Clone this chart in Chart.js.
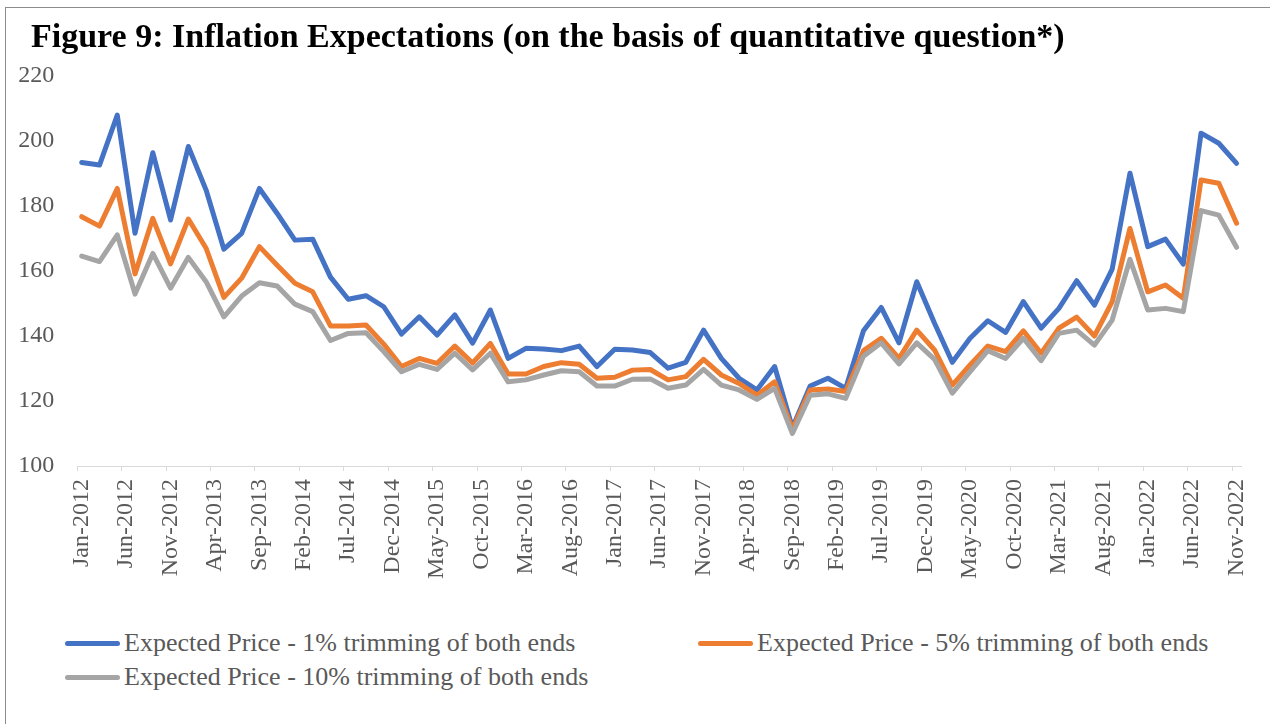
<!DOCTYPE html>
<html>
<head>
<meta charset="utf-8">
<title>Inflation Expectations</title>
<script src="https://cdn.jsdelivr.net/npm/chart.js@4.4.1/dist/chart.umd.min.js"></script>
<style>
  html, body { margin: 0; padding: 0; background: #fff; }
  body { width: 1270px; height: 724px; overflow: hidden; position: relative; font-family: "Liberation Serif", "Times New Roman", serif; }
  #frame { position: absolute; left: 5px; top: 7px; width: 1400px; height: 900px; border: 1px solid #8c8c8c; }
  #chart { position: absolute; left: 0; top: 0; }
  #title { position: absolute; left: 31px; top: 15px; margin: 0; font-size: 34px; line-height: 41px; font-weight: bold; color: #000; white-space: nowrap; }
  #legend { position: absolute; left: 65px; top: 626px; display: grid; grid-template-columns: 633px auto; }
  .item { display: flex; align-items: center; height: 34px; font-size: 26px; color: #595959; white-space: nowrap; }
  .swatch { width: 55px; height: 5px; border-radius: 2.5px; margin-right: 4px; }
</style>
</head>
<body>
<div id="frame"></div>
<canvas id="chart" width="1270" height="596"></canvas>
<h1 id="title">Figure 9: Inflation Expectations (on the basis of quantitative question*)</h1>
<div id="legend"></div>
<script>
const MONTHS = ['Jan','Feb','Mar','Apr','May','Jun','Jul','Aug','Sep','Oct','Nov','Dec'];

// bi-monthly survey rounds
const surveyRounds = [
  'Jan-2012','Mar-2012','May-2012','Jul-2012','Sep-2012','Nov-2012',
  'Jan-2013','Mar-2013','May-2013','Jul-2013','Sep-2013','Nov-2013',
  'Jan-2014','Mar-2014','May-2014','Jul-2014','Sep-2014','Nov-2014',
  'Jan-2015','Mar-2015','May-2015','Jul-2015','Sep-2015','Nov-2015',
  'Jan-2016','Mar-2016','May-2016','Jul-2016','Sep-2016','Nov-2016',
  'Jan-2017','Mar-2017','May-2017','Jul-2017','Sep-2017','Nov-2017',
  'Jan-2018','Mar-2018','May-2018','Jul-2018','Sep-2018','Nov-2018',
  'Jan-2019','Mar-2019','May-2019','Jul-2019','Sep-2019','Nov-2019',
  'Jan-2020','Mar-2020','May-2020','Jul-2020','Sep-2020','Nov-2020',
  'Jan-2021','Mar-2021','May-2021','Jul-2021','Sep-2021','Nov-2021',
  'Jan-2022','Mar-2022','May-2022','Jul-2022','Sep-2022','Nov-2022'
];

const trim1 = [
  193.4, 192.6, 208.0, 171.6, 196.4, 175.7, 198.3, 184.9, 166.7, 171.6,
  185.4, 177.7, 169.5, 169.8, 158.1, 151.3, 152.4, 149.0, 140.6, 145.9,
  140.3, 146.5, 137.8, 148.0, 133.1, 136.2, 136.0, 135.5, 136.9, 130.6,
  135.9, 135.7, 134.9, 130.1, 131.9, 141.8, 133.1, 127.0, 123.4, 130.6,
  111.8, 124.6, 127.0, 123.9, 141.6, 148.8, 137.9, 156.7, 143.9, 131.9,
  139.3, 144.7, 141.1, 150.6, 142.4, 148.5, 157.0, 149.5, 160.6, 190.1,
  167.5, 169.8, 162.1, 202.4, 199.3, 193.1
];

const trim5 = [
  176.7, 173.8, 185.4, 159.1, 176.2, 162.2, 176.0, 167.0, 151.9, 157.8,
  167.5, 161.8, 156.2, 153.6, 143.1, 143.1, 143.4, 137.5, 130.6, 133.1,
  131.6, 136.9, 131.7, 137.7, 128.3, 128.3, 130.6, 131.8, 131.3, 127.0,
  127.3, 129.5, 129.7, 126.5, 127.5, 132.8, 128.0, 125.4, 121.8, 125.9,
  111.3, 123.4, 123.7, 122.9, 135.5, 139.3, 133.1, 141.8, 135.7, 124.9,
  131.1, 136.9, 135.2, 141.6, 134.7, 142.4, 145.8, 140.0, 150.6, 173.1,
  153.6, 155.7, 151.6, 188.0, 187.0, 174.7
];

const trim10 = [
  164.6, 162.9, 171.1, 152.9, 165.4, 154.7, 164.2, 156.7, 145.9, 152.3,
  156.4, 155.4, 149.8, 147.5, 138.6, 140.8, 141.0, 135.2, 129.0, 131.3,
  129.7, 134.7, 129.6, 134.7, 125.9, 126.5, 128.0, 129.3, 129.0, 124.6,
  124.6, 126.7, 126.8, 123.9, 124.9, 129.7, 124.9, 123.4, 120.5, 123.9,
  110.0, 121.8, 122.2, 120.8, 133.8, 137.9, 131.4, 137.9, 132.8, 122.4,
  129.0, 135.5, 133.1, 139.3, 132.4, 140.8, 141.8, 137.2, 144.9, 163.6,
  148.0, 148.5, 147.5, 178.6, 177.2, 167.3
];

const tickLabels = [
  'Jan-2012','Jun-2012','Nov-2012','Apr-2013','Sep-2013','Feb-2014','Jul-2014',
  'Dec-2014','May-2015','Oct-2015','Mar-2016','Aug-2016','Jan-2017','Jun-2017',
  'Nov-2017','Apr-2018','Sep-2018','Feb-2019','Jul-2019','Dec-2019','May-2020',
  'Oct-2020','Mar-2021','Aug-2021','Jan-2022','Jun-2022','Nov-2022'
];

const seriesNames = [
  'Expected Price - 1% trimming of both ends',
  'Expected Price - 5% trimming of both ends',
  'Expected Price - 10% trimming of both ends'
];

const yMin = 100, yMax = 220, yStep = 20;

// months counted from the first axis label
function monthIndex(label) {
  const [mon, year] = label.split('-');
  return (Number(year) - 2012) * 12 + MONTHS.indexOf(mon);
}

function toPoints(values) {
  return surveyRounds.map((r, i) => ({ x: monthIndex(r), y: values[i] }));
}

Chart.defaults.font.family = '"Liberation Serif", "Times New Roman", serif';
Chart.defaults.color = '#595959';

const datasets = [
  { label: seriesNames[0], data: toPoints(trim1),  borderColor: '#4472C4', order: 3 },
  { label: seriesNames[1], data: toPoints(trim5),  borderColor: '#ED7D31', order: 2 },
  { label: seriesNames[2], data: toPoints(trim10), borderColor: '#A5A5A5', order: 1 }
];

const chart = new Chart(document.getElementById('chart'), {
  type: 'line',
  data: { datasets },
  options: {
    responsive: false,
    animation: false,
    layout: { padding: { left: 0, right: 29, top: 76, bottom: 0 } },
    elements: {
      point: { radius: 0, hoverRadius: 0 },
      line: { tension: 0, borderWidth: 5, borderJoinStyle: 'round', borderCapStyle: 'round', fill: false }
    },
    plugins: {
      legend: { display: false },
      tooltip: { enabled: false }
    },
    scales: {
      x: {
        type: 'linear',
        min: monthIndex(tickLabels[0]) - 0.5,
        max: monthIndex(tickLabels[tickLabels.length - 1]) + 0.5,
        afterBuildTicks: s => { s.ticks = tickLabels.map(l => ({ value: monthIndex(l) - 0.5 })); },
        afterFit: s => { s.height = 130; },
        grid: { drawOnChartArea: false, color: '#d9d9d9', tickLength: 5 },
        border: { color: '#d9d9d9' },
        ticks: {
          autoSkip: false, maxRotation: 90, minRotation: 90,
          padding: 8, labelOffset: 4.4,
          font: { size: 24 },
          callback: (v, i) => tickLabels[i]
        }
      },
      y: {
        min: yMin, max: yMax,
        afterFit: s => { s.width = 77.3; },
        grid: { display: false, drawTicks: false },
        border: { display: false },
        ticks: { stepSize: yStep, padding: 23, font: { size: 24 } }
      }
    }
  }
});

// legend laid out in two columns, like the original
const legend = document.getElementById('legend');
chart.data.datasets.forEach(ds => {
  const item = document.createElement('div');
  item.className = 'item';
  item.innerHTML = `<span class="swatch" style="background:${ds.borderColor}"></span><span>${ds.label}</span>`;
  legend.appendChild(item);
});
</script>
</body>
</html>
